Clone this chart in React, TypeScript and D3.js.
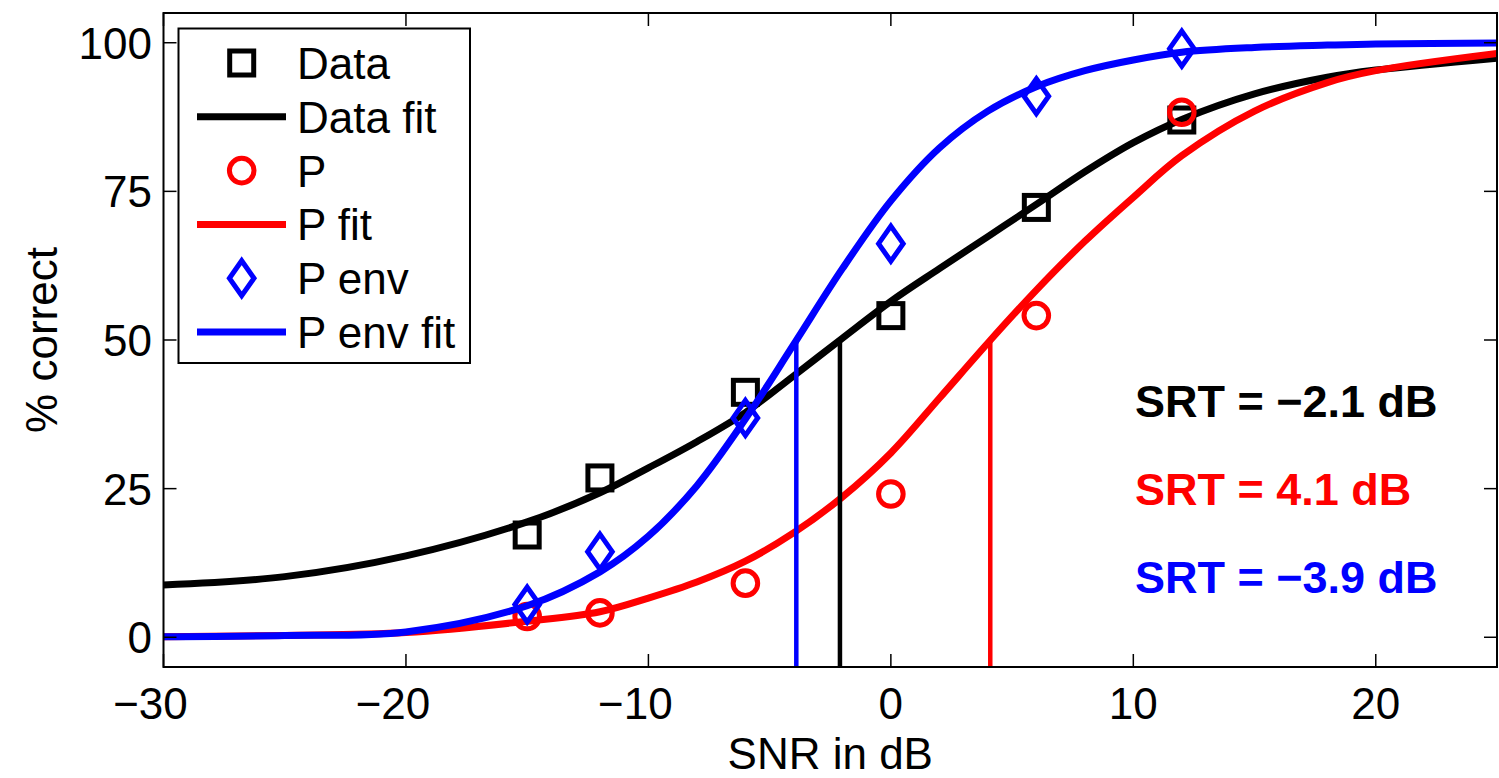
import * as d3 from "d3";
import { useEffect, useRef } from "react";

// tick values
const snrTicks = [-30, -20, -10, 0, 10, 20];
const pctTicks = [0, 25, 50, 75, 100];

// measured points
const measuredSnr = [-15, -12, -6, 0, 6, 12];
const dataPct = [17.2, 26.8, 41.2, 54.1, 72.3, 87.0];
const pPct = [3.5, 4.1, 9.1, 24.1, 54.1, 88.3];
const pEnvPct = [5.5, 14.4, 36.9, 66.2, 91.0, 99.0];

// fitted curves
const fitSnr = [-30, -25, -20, -15, -12, -10, -8, -6, -4, -2, 0, 2, 4, 6, 8, 10, 12, 15, 18, 20, 25];
const dataFitPct = [8.8, 10.2, 13.7, 19.4, 24.3, 28.5, 32.9, 37.8, 44.0, 50.3, 56.5, 62.0, 67.4, 72.8, 78.3, 83.2, 87.1, 91.4, 94.2, 95.4, 97.4];
const pFitPct = [0.1, 0.3, 0.8, 2.7, 4.3, 6.6, 9.3, 12.8, 17.6, 23.6, 31.0, 40.2, 49.5, 58.4, 66.6, 74.0, 81.0, 88.5, 93.3, 95.3, 98.2];
const pEnvFitPct = [0.1, 0.3, 0.9, 5.3, 11.0, 17.0, 25.5, 36.7, 49.3, 62.0, 73.4, 82.3, 88.5, 92.6, 95.3, 97.1, 98.4, 99.2, 99.6, 99.8, 99.95];

// speech reception thresholds
const srtValues = [-2.1, 4.1, -3.9];
const srtLabels = ["SRT = \u22122.1 dB", "SRT = 4.1 dB", "SRT = \u22123.9 dB"];
const srtColors = ["#000000", "#ff0000", "#0000ff"];

const legendLabels = ["Data", "Data fit", "P", "P fit", "P env", "P env fit"];

const W = 1499;
const H = 778;
const FONT = "'Liberation Sans', Arial, Helvetica, sans-serif";

const App = () => {
    const ref = useRef(null);

    useEffect(() => {
        const svg = d3.select(ref.current);
        svg.selectAll("*").remove();

        const left = 163.5, right = 1497, top = 13, bottom = 667;

        const x = d3.scaleLinear().domain([-30, 25]).range([left, right]);
        const y = d3.scaleLinear().domain([-5, 105]).range([bottom, top]);

        svg.append("rect").attr("width", W).attr("height", H).attr("fill", "#fff");

        svg.append("defs").append("clipPath").attr("id", "plotclip")
            .append("rect")
            .attr("x", left).attr("y", top)
            .attr("width", right - left).attr("height", bottom - top);

        const plot = svg.append("g").attr("clip-path", "url(#plotclip)");

        const line = d3.line<number>()
            .x((d, i) => x(fitSnr[i]))
            .y(d => y(d))
            .curve(d3.curveCatmullRom.alpha(0.5));

        const squareSide = 24;
        const mw = 5;
        const drawSquares = (g, vals) => {
            g.selectAll(null).data(vals).enter().append("rect")
                .attr("x", (d, i) => x(measuredSnr[i]) - squareSide / 2)
                .attr("y", d => y(d) - squareSide / 2)
                .attr("width", squareSide).attr("height", squareSide)
                .attr("fill", "none").attr("stroke", "#000").attr("stroke-width", mw);
        };
        const drawCircles = (g, vals) => {
            g.selectAll(null).data(vals).enter().append("circle")
                .attr("cx", (d, i) => x(measuredSnr[i]))
                .attr("cy", d => y(d))
                .attr("r", 12.3)
                .attr("fill", "none").attr("stroke", "#ff0000").attr("stroke-width", mw);
        };
        const diamondPath = (cx, cy) =>
            `M${cx},${cy - 17.5}L${cx + 12.3},${cy}L${cx},${cy + 17.5}L${cx - 12.3},${cy}Z`;
        const drawDiamonds = (g, vals) => {
            g.selectAll(null).data(vals).enter().append("path")
                .attr("d", (d, i) => diamondPath(x(measuredSnr[i]), y(d)))
                .attr("fill", "none").attr("stroke", "#0000ff").attr("stroke-width", mw);
        };

        // series in plotting order
        drawSquares(plot, dataPct);
        plot.append("path").attr("d", line(dataFitPct))
            .attr("fill", "none").attr("stroke", "#000").attr("stroke-width", 7);
        drawCircles(plot, pPct);
        plot.append("path").attr("d", line(pFitPct))
            .attr("fill", "none").attr("stroke", "#ff0000").attr("stroke-width", 7);
        drawDiamonds(plot, pEnvPct);
        plot.append("path").attr("d", line(pEnvFitPct))
            .attr("fill", "none").attr("stroke", "#0000ff").attr("stroke-width", 7);

        // SRT markers
        srtValues.forEach((v, i) => {
            plot.append("line")
                .attr("x1", x(v)).attr("x2", x(v))
                .attr("y1", y(-5)).attr("y2", y(50))
                .attr("stroke", srtColors[i]).attr("stroke-width", 4.5);
        });

        // axes box
        svg.append("rect")
            .attr("x", left).attr("y", top)
            .attr("width", right - left).attr("height", bottom - top)
            .attr("fill", "none").attr("stroke", "#000").attr("stroke-width", 2);

        const tickLen = 13;
        snrTicks.forEach(t => {
            svg.append("line").attr("x1", x(t)).attr("x2", x(t))
                .attr("y1", bottom).attr("y2", bottom - tickLen)
                .attr("stroke", "#000").attr("stroke-width", 1.5);
            svg.append("line").attr("x1", x(t)).attr("x2", x(t))
                .attr("y1", top).attr("y2", top + tickLen)
                .attr("stroke", "#000").attr("stroke-width", 1.5);
            svg.append("text")
                .attr("x", x(t)).attr("y", 719)
                .attr("dx", t < 0 ? -13 : 0)
                .attr("text-anchor", "middle")
                .attr("font-family", FONT).attr("font-size", 44)
                .text(t < 0 ? "\u2212" + Math.abs(t) : String(t));
        });
        pctTicks.forEach(t => {
            svg.append("line").attr("x1", left).attr("x2", left + tickLen)
                .attr("y1", y(t)).attr("y2", y(t))
                .attr("stroke", "#000").attr("stroke-width", 1.5);
            svg.append("line").attr("x1", right).attr("x2", right - tickLen)
                .attr("y1", y(t)).attr("y2", y(t))
                .attr("stroke", "#000").attr("stroke-width", 1.5);
            svg.append("text")
                .attr("x", 152).attr("y", y(t) + 16)
                .attr("text-anchor", "end")
                .attr("font-family", FONT).attr("font-size", 44)
                .text(String(t));
        });

        svg.append("text")
            .attr("x", (left + right) / 2).attr("y", 769)
            .attr("text-anchor", "middle")
            .attr("font-family", FONT).attr("font-size", 44)
            .text("SNR in dB");

        svg.append("text")
            .attr("transform", `translate(57, ${(top + bottom) / 2}) rotate(-90)`)
            .attr("text-anchor", "middle")
            .attr("font-family", FONT).attr("font-size", 44)
            .text("% correct");

        // SRT annotations
        srtLabels.forEach((s, i) => {
            svg.append("text")
                .attr("x", 1135).attr("y", 417 + i * 88)
                .attr("font-family", FONT).attr("font-size", 45).attr("font-weight", "bold")
                .attr("fill", srtColors[i])
                .text(s);
        });

        // legend
        const lg = svg.append("g");
        lg.append("rect")
            .attr("x", 178.5).attr("y", 28.5)
            .attr("width", 291.5).attr("height", 334.5)
            .attr("fill", "#fff").attr("stroke", "#000").attr("stroke-width", 2);
        const rowY = d3.scaleLinear().domain([0, 5]).range([63, 332]);
        const mx = 241.7;
        legendLabels.forEach((lab, i) => {
            const cy = rowY(i);
            if (i === 0) {
                lg.append("rect").attr("x", mx - squareSide / 2).attr("y", cy - squareSide / 2)
                    .attr("width", squareSide).attr("height", squareSide)
                    .attr("fill", "none").attr("stroke", "#000").attr("stroke-width", mw);
            } else if (i === 2) {
                lg.append("circle").attr("cx", mx).attr("cy", cy).attr("r", 12.3)
                    .attr("fill", "none").attr("stroke", "#ff0000").attr("stroke-width", mw);
            } else if (i === 4) {
                lg.append("path").attr("d", diamondPath(mx, cy))
                    .attr("fill", "none").attr("stroke", "#0000ff").attr("stroke-width", mw);
            } else {
                lg.append("line").attr("x1", 197).attr("x2", 286)
                    .attr("y1", cy).attr("y2", cy)
                    .attr("stroke", ["#000", "#000", "#000", "#ff0000", "#0000ff", "#0000ff"][i])
                    .attr("stroke-width", 7);
            }
            lg.append("text")
                .attr("x", 297).attr("y", cy + 16)
                .attr("font-family", FONT).attr("font-size", 44)
                .text(lab);
        });
    }, []);

    return (
        <svg ref={ref} width={W} height={H}
            style={{ position: "absolute", left: 0, top: 0, display: "block" }}></svg>
    );
};

export default App;
